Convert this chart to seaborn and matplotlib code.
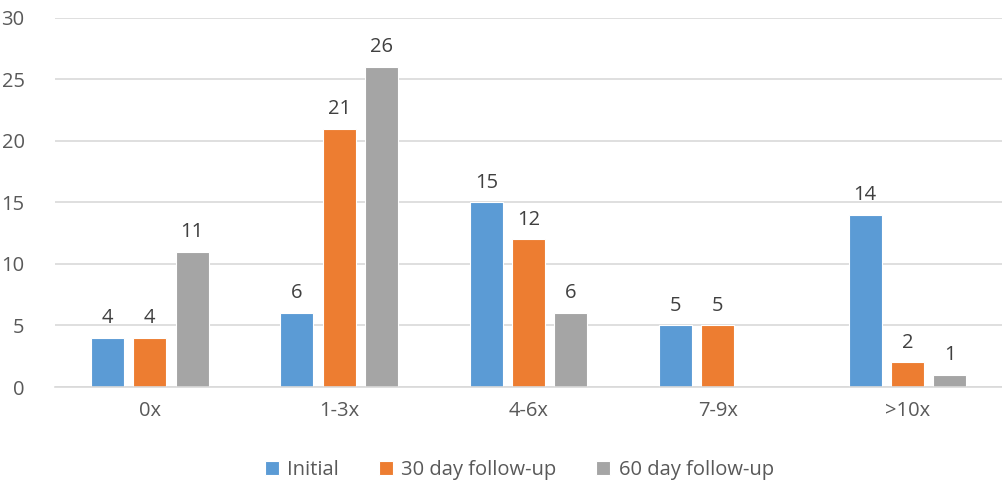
import numpy as np
import pandas as pd
import matplotlib
matplotlib.use("Agg")
import matplotlib.pyplot as plt
import seaborn as sns

categories = ["0x", "1-3x", "4-6x", "7-9x", ">10x"]
series_names = ["Initial", "30 day follow-up", "60 day follow-up"]
initial = [4, 6, 15, 5, 14]
day30 = [4, 21, 12, 5, 2]
day60 = [11, 26, 6, np.nan, 1]
colors = ["#5B9BD5", "#ED7D31", "#A5A5A5"]
y_ticks = [0, 5, 10, 15, 20, 25, 30]

rows = []
for name, vals in zip(series_names, [initial, day30, day60]):
    for c, v in zip(categories, vals):
        rows.append({"category": c, "series": name, "value": v})
df = pd.DataFrame(rows)

sns.set_theme(style="white")
plt.rcParams["font.family"] = ["Open Sans", "DejaVu Sans"]
text_color = "#595959"

fig = plt.figure(figsize=(10.02, 4.84), dpi=100)
ax = fig.add_axes([0.055, 0.2004, 0.945, 0.7626])
sns.barplot(data=df, x="category", y="value", hue="series", order=categories,
            hue_order=series_names, palette=colors, width=0.67, gap=0.22,
            edgecolor="white", linewidth=0.8, ax=ax, legend=True, saturation=1)

ax.set_ylim(0, 30)
ax.set_yticks(y_ticks)
ax.set_xlim(-0.5, 4.5)
ax.yaxis.grid(True, color="#D9D9D9", linewidth=1.2)
ax.set_axisbelow(True)
for s in ["top", "right", "left"]:
    ax.spines[s].set_visible(False)
ax.spines["bottom"].set_color("#D9D9D9")
ax.spines["bottom"].set_linewidth(1.2)
ax.tick_params(axis="both", length=0, labelsize=14.5, colors=text_color, pad=10)
ax.tick_params(axis="y", pad=22)
for lbl in ax.get_yticklabels():
    lbl.set_horizontalalignment("right")
ax.set_xlabel("")
ax.set_ylabel("")

for cont in ax.containers:
    labels = ["" if np.isnan(v) else f"{int(v)}" for v in cont.datavalues]
    ax.bar_label(cont, labels=labels, padding=7, fontsize=14.5, color="#404040")

handles, labs = ax.get_legend_handles_labels()
ax.legend(handles, labs, loc="lower center", bbox_to_anchor=(0.49, -0.3),
          ncol=3, frameon=False, fontsize=14.5, labelcolor=text_color,
          handlelength=0.7, handleheight=0.7, handletextpad=0.4, columnspacing=2.0)

fig.savefig("out.png", dpi=100)
